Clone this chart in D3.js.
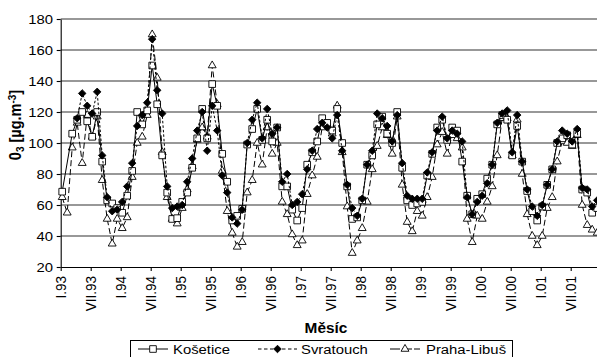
<!DOCTYPE html>
<html><head><meta charset="utf-8">
<script src="https://cdn.jsdelivr.net/npm/d3@7"></script>
<style>body{margin:0;background:#fff}svg{display:block}text{font-family:"Liberation Sans",Arial,sans-serif;fill:#000}</style>
</head><body>
<svg id="c" width="597" height="357"></svg>
<script>
// month index 0 = I.1993 ... 107 = XII.2001
const tickLabels = ["I.93","VII.93","I.94","VII.94","I.95","VII.95","I.96","VII.96","I.97","VII.97","I.98","VII.98","I.99","VII.99","I.00","VII.00","I.01","VII.01"];
const tickMonths = [0,6,12,18,24,30,36,42,48,54,60,66,72,78,84,90,96,102];
const yTicks = [20,40,60,80,100,120,140,160,180];
const seriesNames = ["Košetice","Svratouch","Praha-Libuš"];

const kosetice = [
 68.6,null,106,115,120,114,104,120,88,63,61,58,
 55,66,82,120,112,121,150,125,92,68,51,51.5,
 62,68,84,103,122,103,138,124,93,75,50,53,
 57.5,99,109,122,102,115,101,110,72,72,57,50,
 58,86,94,101,116,113,108,122,100,72,51,52,
 63,86,92,112,117,106,100,120,84,63,60,61,
 62,79,93,110,115,102,110,108,88,66,54,64,
 67,77,86,112,118,115,92,111,88,69,56,50,
 59,73,83,100,103,105,99,106,70,68,55,58];
const svratouch = [
 null,null,null,116,132,124,119,133,92,65,56,57,
 62,72,87,111,118,126,167,134,119,72,58,59,
 60,75,90,108,120,95,124,108,79,68,52,48,
 57,100,115,126,103,122,106,110,75,80,60,62,
 67,83,95,109,113,110,103,118,95,73,58,53,
 64,86,95,119,116,111,101,118,87,66,64,64,
 64,81,94,108,117,103,108,106,101,65,54,62,
 66,74,86,113,119,121,94,118,88,70,59,53,
 60,73,83,101,108,106,101,109,71,70,59,63];
const praha = [
 65,55,97,113,87,118,104,117,76,51,35,51,
 45,52,78,100,104,118,170,142,94,65,51,48,
 58,70,85,102,110,104,150,125,82,56,42,33,
 36,68,76,100,86,110,93,100,62,54,41,34,
 37,67,79,91,110,112,106,124,94,59,29,37,
 45,62,83,98,110,105,93,117,73,49,43,56,
 53,65,78,99,107,93,105,103,97,51,36,53,
 51,62,72,92,116,116,92,115,80,54,40,34,
 40,58,65,88,101,100,98,105,60,47,44,42];

const svg = d3.select("#c");
const SX = 1.1; // horizontal stretch of the original lettering
const x = d3.scaleLinear().domain([0,108]).range([60.7,600.7]);
const y = d3.scaleLinear().domain([20,180]).range([267,19]);

// gridlines
svg.append("g").selectAll("line").data(yTicks.filter(v=>v>20)).join("line")
  .attr("x1",x(0)).attr("x2",597).attr("y1",d=>y(d)).attr("y2",d=>y(d))
  .attr("stroke","#333").attr("stroke-width",1.1);

// axes
const gy = svg.append("g").attr("transform",`translate(${x(0)},0)`)
  .call(d3.axisLeft(y).tickValues(yTicks).tickSize(4).tickSizeOuter(0).tickPadding(3));
gy.selectAll("text").attr("font-size",13.5).attr("font-family",null)
  .attr("transform",`scale(${SX},1)`);
const gx = svg.append("g").attr("transform",`translate(0,${y(20)})`)
  .call(d3.axisBottom(x).tickValues(tickMonths).tickSize(4).tickSizeOuter(0).tickFormat((d,i)=>tickLabels[i]));
gx.selectAll("text").attr("font-size",13.5).attr("font-family",null)
  .attr("y",0).attr("x",-9).attr("dy","0.35em").attr("text-anchor","end")
  .attr("transform",`scale(${SX},1) rotate(-90)`);
svg.selectAll(".domain, .tick line").attr("stroke","#000").attr("stroke-width",1.1);

// series
const series = [
  {name:seriesNames[2], vals:praha, dash:"6,3", sym:d3.symbolTriangle, size:27, fill:"#fff"},
  {name:seriesNames[0], vals:kosetice, dash:null, sym:d3.symbolSquare, size:44, fill:"#fff"},
  {name:seriesNames[1], vals:svratouch, dash:"2.5,2", sym:d3.symbolDiamond2, size:36, fill:"#000"}
];
const line = d3.line().x(d=>x(d.i+0.3)).y(d=>y(d.v));
series.forEach(s=>{
  const pts = s.vals.map((v,i)=>({i,v})).filter(d=>d.v!=null);
  svg.append("path").datum(pts).attr("d",line).attr("fill","none")
    .attr("stroke","#000").attr("stroke-width",1).attr("stroke-dasharray",s.dash);
  svg.append("g").selectAll("path").data(pts).join("path")
    .attr("transform",d=>`translate(${x(d.i+0.3)},${y(d.v)})`)
    .attr("d",d3.symbol(s.sym,s.size)).attr("fill",s.fill).attr("stroke","#000").attr("stroke-width",0.9);
});

// axis titles
svg.append("text").attr("transform",`translate(326,333) scale(${SX},1)`)
  .attr("text-anchor","middle").attr("font-size",14).attr("font-weight","bold").text("Měsíc");
const yt = svg.append("text").attr("transform",`translate(21,125) scale(${SX},1) rotate(-90)`)
  .attr("text-anchor","middle").attr("font-size",14.5).attr("font-weight","bold");
yt.append("tspan").text("0");
yt.append("tspan").attr("dy",3).attr("font-size",10).text("3");
yt.append("tspan").attr("dy",-3).text(" [µg.m");
yt.append("tspan").attr("dy",-5).attr("font-size",10).text("-3");
yt.append("tspan").attr("dy",5).text("]");

// legend
svg.append("rect").attr("x",130.5).attr("y",340.5).attr("width",382).attr("height",30)
  .attr("fill","#fff").attr("stroke","#000");
const leg = [
  {s:series[1], x0:138, x1:168, tx:173},
  {s:series[2], x0:258, x1:297, tx:301},
  {s:series[0], x0:390, x1:420, tx:426}
];
leg.forEach(l=>{
  const ly = 349;
  svg.append("line").attr("x1",l.x0).attr("x2",l.x1).attr("y1",ly).attr("y2",ly)
    .attr("stroke","#000").attr("stroke-dasharray",l.s.dash === "6,3" ? "10,2" : (l.s.dash ? "3.5,2.5" : null));
  svg.append("path").attr("transform",`translate(${(l.x0+l.x1)/2},${ly})`)
    .attr("d",d3.symbol(l.s.sym,l.s.size)).attr("fill",l.s.fill).attr("stroke","#000").attr("stroke-width",0.9);
  svg.append("text").attr("transform",`translate(${l.tx},354) scale(${SX},1)`)
    .attr("font-size",13.5).text(l.s.name);
});
</script>
</body></html>
